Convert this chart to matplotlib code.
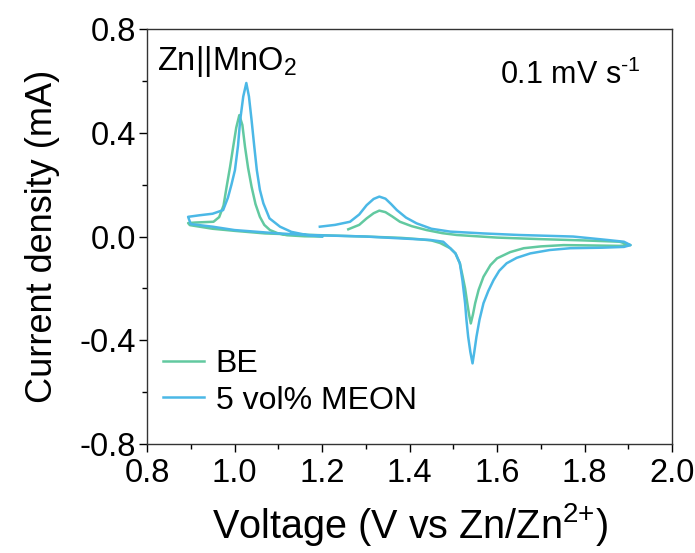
import matplotlib
matplotlib.use("Agg")
import matplotlib.pyplot as plt
from matplotlib.ticker import MultipleLocator

plt.rcParams['font.family'] = ['Liberation Sans', 'DejaVu Sans']
plt.rcParams['mathtext.fontset'] = 'custom'
plt.rcParams['mathtext.rm'] = 'Liberation Sans'

# CV traces, read point by point along each loop (V, mA)
be_v = [1.260, 1.285, 1.302, 1.318, 1.331, 1.345, 1.360, 1.378, 1.405, 1.439, 1.475, 1.508,
        1.60, 1.70, 1.80, 1.88, 1.905, 1.88, 1.80, 1.752, 1.70, 1.661, 1.630, 1.600, 1.585,
        1.569, 1.558, 1.550, 1.545, 1.540, 1.536, 1.532, 1.527, 1.521, 1.515, 1.505, 1.493,
        1.470, 1.450, 1.420, 1.380, 1.30, 1.20, 1.12, 1.07, 1.00, 0.95, 0.898, 0.894, 0.91,
        0.952, 0.965, 0.975, 0.982, 0.990, 0.997, 1.004, 1.011, 1.018, 1.024, 1.031, 1.039,
        1.048, 1.058, 1.068, 1.081, 1.10, 1.12, 1.16, 1.20]
be_i = [0.028, 0.045, 0.070, 0.090, 0.100, 0.094, 0.078, 0.057, 0.040, 0.025, 0.013, 0.006,
        -0.004, -0.010, -0.015, -0.020, -0.033, -0.036, -0.034, -0.033, -0.038, -0.045, -0.060,
        -0.084, -0.110, -0.155, -0.205, -0.257, -0.300, -0.335, -0.300, -0.257, -0.200, -0.150,
        -0.103, -0.065, -0.045, -0.025, -0.015, -0.010, -0.005, 0.000, 0.005, 0.009, 0.012,
        0.022, 0.030, 0.044, 0.052, 0.054, 0.057, 0.075, 0.120, 0.192, 0.270, 0.346, 0.420,
        0.468, 0.430, 0.346, 0.265, 0.192, 0.125, 0.076, 0.045, 0.025, 0.012, 0.005, 0.001, 0.000]

meon_v = [1.195, 1.230, 1.264, 1.285, 1.302, 1.318, 1.331, 1.345, 1.358, 1.371, 1.392, 1.416,
          1.450, 1.493, 1.569, 1.65, 1.774, 1.851, 1.890, 1.905, 1.890, 1.84, 1.767, 1.720,
          1.676, 1.645, 1.622, 1.605, 1.592, 1.580, 1.569, 1.560, 1.553, 1.548, 1.544, 1.539,
          1.534, 1.530, 1.527, 1.521, 1.515, 1.505, 1.493, 1.477, 1.447, 1.378, 1.30, 1.166,
          1.10, 1.00, 0.95, 0.900, 0.894, 0.92, 0.950, 0.974, 0.985, 0.993, 1.001, 1.008, 1.013,
          1.020, 1.027, 1.033, 1.039, 1.045, 1.051, 1.058, 1.066, 1.080, 1.104, 1.130, 1.165, 1.20]
meon_i = [0.038, 0.045, 0.057, 0.085, 0.121, 0.145, 0.154, 0.146, 0.125, 0.102, 0.073, 0.051,
          0.030, 0.019, 0.012, 0.006, 0.000, -0.013, -0.020, -0.033, -0.040, -0.043, -0.045,
          -0.052, -0.065, -0.082, -0.103, -0.132, -0.168, -0.210, -0.257, -0.320, -0.386, -0.445,
          -0.489, -0.445, -0.386, -0.320, -0.257, -0.170, -0.103, -0.065, -0.045, -0.020, -0.013,
          -0.007, 0.000, 0.006, 0.012, 0.025, 0.038, 0.048, 0.076, 0.082, 0.088, 0.102, 0.150,
          0.200, 0.256, 0.350, 0.449, 0.540, 0.592, 0.540, 0.449, 0.350, 0.256, 0.180, 0.128,
          0.070, 0.038, 0.018, 0.006, 0.000]

series_labels = ['BE', '5 vol% MEON']
series_colors = ['#62c9a0', '#4bb8e6']

fig = plt.figure(figsize=(6.95, 5.53), dpi=100)
ax = fig.add_axes([0.2115, 0.197, 0.7555, 0.7505])

ax.plot(be_v, be_i, color=series_colors[0], lw=1.8, label=series_labels[0])
ax.plot(meon_v, meon_i, color=series_colors[1], lw=1.8, label=series_labels[1])

ax.set_xlim(0.8, 2.0)
ax.set_ylim(-0.8, 0.8)
ax.xaxis.set_major_locator(MultipleLocator(0.2))
ax.xaxis.set_minor_locator(MultipleLocator(0.1))
ax.yaxis.set_major_locator(MultipleLocator(0.4))
ax.yaxis.set_minor_locator(MultipleLocator(0.2))
ax.xaxis.set_major_formatter(plt.FormatStrFormatter('%.1f'))
ax.yaxis.set_major_formatter(plt.FormatStrFormatter('%.1f'))
ax.tick_params(which='major', direction='out', length=6, width=1, labelsize=23.5, pad=2)
ax.tick_params(axis='x', which='major', pad=4)
ax.tick_params(which='minor', direction='out', length=3.5, width=1)
for s in ax.spines.values():
    s.set_linewidth(1)
    s.set_color('#333333')

ax.set_xlabel('Voltage (V vs Zn/Zn$^{\\text{2+}}$)', fontsize=28.5, labelpad=9)
ax.set_ylabel('Current density (mA)', fontsize=26, labelpad=14)

ax.text(0.02, 0.965, 'Zn||MnO$_2$', transform=ax.transAxes, fontsize=23.5, va='top', ha='left')
ax.text(0.94, 0.925, '0.1 mV s$^{\\text{-1}}$', transform=ax.transAxes, fontsize=22,
        va='top', ha='right')

ax.legend(loc='lower left', bbox_to_anchor=(0.0, 0.03), frameon=False, fontsize=23,
          handlelength=1.3, handletextpad=0.35, labelspacing=0.2, borderaxespad=0.1)

fig.savefig('out.png', dpi=100)
